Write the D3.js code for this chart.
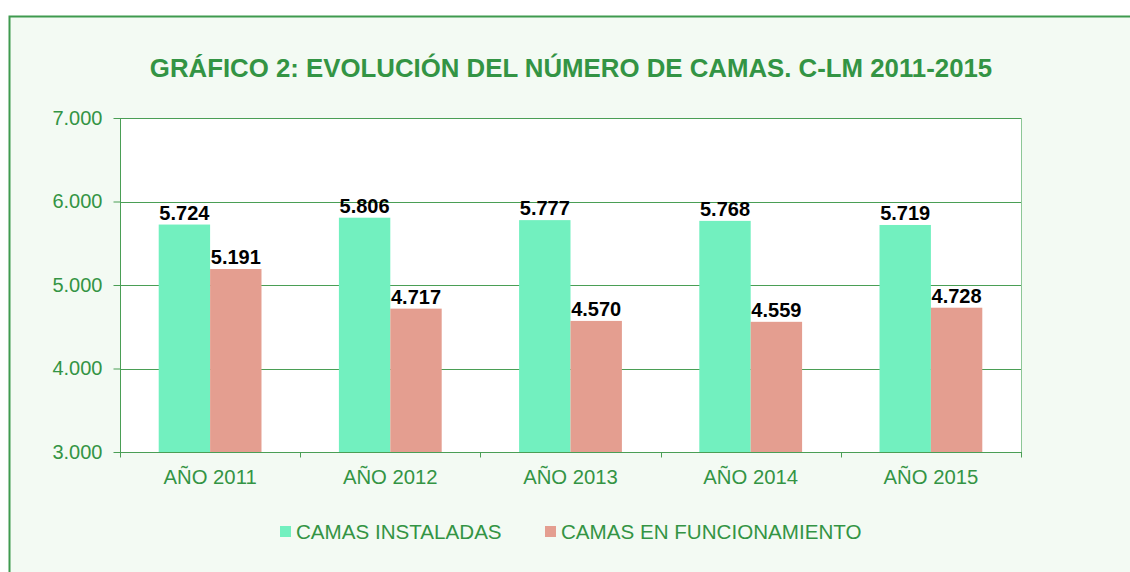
<!DOCTYPE html>
<html>
<head>
<meta charset="utf-8">
<script src="https://cdn.jsdelivr.net/npm/d3@7"></script>
<style>
  html, body { margin: 0; padding: 0; background: #ffffff; }
  svg { display: block; }
  text { font-family: Arial, "Liberation Sans", sans-serif; }
</style>
</head>
<body>
<svg id="chart" width="1130" height="572"></svg>
<script>
const categories = ["AÑO 2011", "AÑO 2012", "AÑO 2013", "AÑO 2014", "AÑO 2015"];
const seriesNames = ["CAMAS INSTALADAS", "CAMAS EN FUNCIONAMIENTO"];
const camasInstaladas = [5724, 5806, 5777, 5768, 5719];
const camasFuncionamiento = [5191, 4717, 4570, 4559, 4728];
const yTicks = [3000, 4000, 5000, 6000, 7000];
const titleText = "GRÁFICO 2: EVOLUCIÓN DEL NÚMERO DE CAMAS. C-LM 2011-2015";

const colors = ["#72f0bf", "#e49e90"];
const textGreen = "#339444";
const gridGreen = "#4a9e55";

const svg = d3.select("#chart");
const W = 1130, H = 572;
const plot = { left: 120, right: 1021, top: 118, bottom: 452 };

const loc = d3.formatLocale({ decimal: ",", thousands: ".", grouping: [3], currency: ["", ""] });
const fmt = loc.format(",d");

// outer frame
svg.append("rect").attr("x", 9.5).attr("y", 16.5).attr("width", W + 20).attr("height", H + 20)
  .attr("fill", "#f3faf3").attr("stroke", "#3f9a4f").attr("stroke-width", 2);

// title
svg.append("text").attr("x", 571).attr("y", 77).attr("text-anchor", "middle")
  .attr("font-size", 25.8).attr("font-weight", "bold").attr("fill", textGreen).text(titleText);

// plot area
svg.append("rect").attr("x", plot.left).attr("y", plot.top)
  .attr("width", plot.right - plot.left).attr("height", plot.bottom - plot.top)
  .attr("fill", "#ffffff");

const x0 = d3.scaleBand().domain(categories).range([plot.left, plot.right]).padding(0);
const x1 = d3.scaleBand().domain(seriesNames).range([0, x0.bandwidth()]).paddingInner(0).paddingOuter(0.753);
const y = d3.scaleLinear().domain([3000, 7000]).range([plot.bottom, plot.top]);

// gridlines
svg.append("g").selectAll("line").data(yTicks.filter(t => t > 3000)).join("line")
  .attr("x1", plot.left).attr("x2", plot.right)
  .attr("y1", d => Math.round(y(d)) + 0.5).attr("y2", d => Math.round(y(d)) + 0.5)
  .attr("stroke", gridGreen).attr("stroke-width", 1);

// right border
svg.append("line").attr("x1", plot.right + 0.5).attr("x2", plot.right + 0.5)
  .attr("y1", plot.top).attr("y2", plot.bottom).attr("stroke", "#8cc796").attr("stroke-width", 1);

// bars
const data = categories.map((c, i) => ({ cat: c, vals: [camasInstaladas[i], camasFuncionamiento[i]] }));
const groups = svg.append("g").selectAll("g").data(data).join("g")
  .attr("transform", d => `translate(${x0(d.cat)},0)`);
groups.selectAll("rect").data(d => d.vals.map((v, k) => ({ k, v }))).join("rect")
  .attr("x", d => x1(seriesNames[d.k]))
  .attr("width", x1.bandwidth())
  .attr("y", d => y(d.v))
  .attr("height", d => y(3000) - y(d.v))
  .attr("fill", d => colors[d.k]);
groups.selectAll("text").data(d => d.vals.map((v, k) => ({ k, v }))).join("text")
  .attr("x", d => x1(seriesNames[d.k]) + x1.bandwidth() / 2)
  .attr("y", d => y(d.v) - 5)
  .attr("text-anchor", "middle")
  .attr("font-size", 20).attr("font-weight", "bold").attr("fill", "#000000")
  .text(d => fmt(d.v));

// y axis
const yAxis = d3.axisLeft(y).tickValues(yTicks).tickFormat(fmt).tickSize(7).tickPadding(11);
const gy = svg.append("g").attr("transform", `translate(${plot.left + 0.5},0)`).call(yAxis);
gy.select(".domain").attr("stroke", gridGreen).attr("d", `M0,${plot.top}V${plot.bottom + 5}`);
gy.selectAll(".tick line").attr("stroke", gridGreen);
gy.selectAll(".tick text").attr("font-size", 20).attr("fill", textGreen)
  .attr("font-family", "Arial, 'Liberation Sans', sans-serif");

// x axis
const gx = svg.append("g").attr("transform", `translate(0,${plot.bottom + 0.5})`);
gx.append("line").attr("x1", plot.left).attr("x2", plot.right + 1).attr("stroke", gridGreen);
const bounds = categories.map(c => x0(c)).concat([x0(categories[categories.length - 1]) + x0.bandwidth()]);
gx.selectAll("line.t").data(bounds).join("line").attr("class", "t")
  .attr("x1", d => Math.round(d) + 0.5).attr("x2", d => Math.round(d) + 0.5)
  .attr("y1", 0).attr("y2", 5).attr("stroke", gridGreen);
gx.selectAll("text").data(categories).join("text")
  .attr("x", d => x0(d) + x0.bandwidth() / 2).attr("y", 31)
  .attr("text-anchor", "middle").attr("font-size", 20.3).attr("fill", textGreen).text(d => d);

// legend
const legendItems = [{ x: 280, name: seriesNames[0], c: colors[0] }, { x: 545, name: seriesNames[1], c: colors[1] }];
const lg = svg.append("g").selectAll("g").data(legendItems).join("g");
lg.append("rect").attr("x", d => d.x).attr("y", 526).attr("width", 11).attr("height", 11).attr("fill", d => d.c);
lg.append("text").attr("x", d => d.x + 16).attr("y", 539).attr("font-size", 20.6).attr("fill", textGreen).text(d => d.name);
</script>
</body>
</html>
